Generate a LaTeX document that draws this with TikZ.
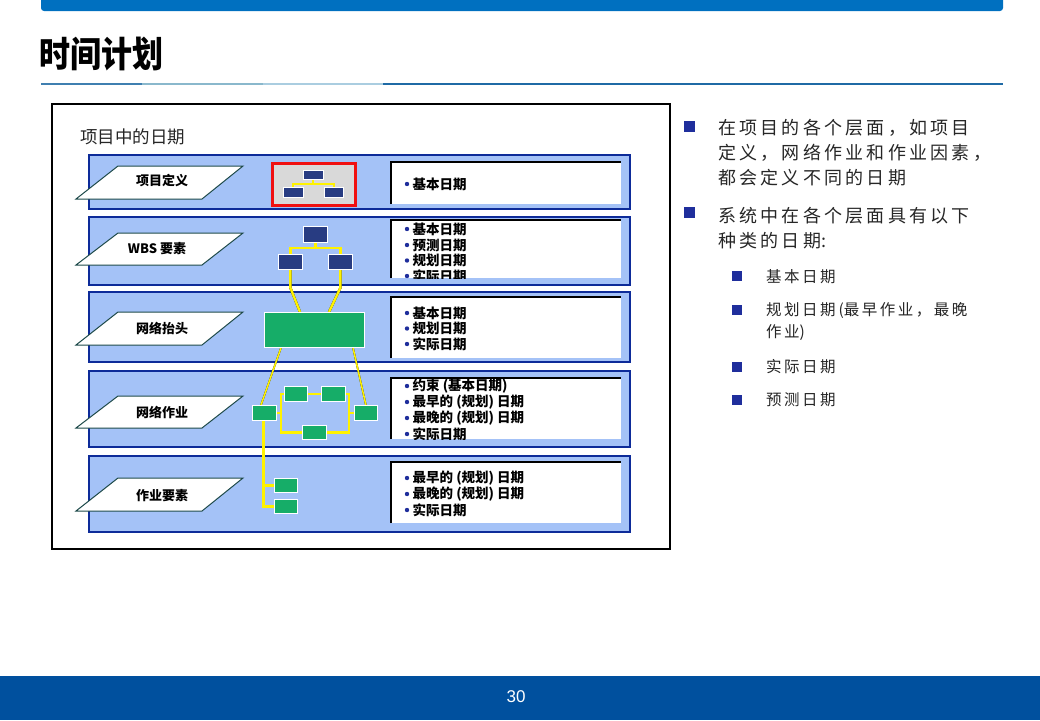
\documentclass[tikz,border=0pt]{standalone}
\usepackage{fontspec}
\usetikzlibrary{calc}
\newfontfamily\cjk{Noto Sans CJK SC}
\newfontfamily\cjkw{Noto Sans CJK SC}[LetterSpace=18]
\newfontfamily\cjks{Noto Sans CJK SC}[LetterSpace=16]
\newfontfamily\arialf{Liberation Sans}
\definecolor{topblue}{HTML}{0070C0}
\definecolor{botblue}{HTML}{00509E}
\definecolor{bandfill}{HTML}{A4C2F7}
\definecolor{bandline}{HTML}{0D2B99}
\definecolor{navybox}{HTML}{283C82}
\definecolor{grn}{HTML}{16AD68}
\definecolor{bulnavy}{HTML}{1F2E9C}
\definecolor{paraline}{HTML}{1E4A4A}
\definecolor{txtgray}{HTML}{262626}
\definecolor{redline}{HTML}{F01010}
\definecolor{iconbg}{HTML}{D9D9D9}
\tikzset{
  band/.style={fill=bandfill, draw=bandline, line width=1.5},
  para/.style={fill=white, draw=paraline, line width=1},
  lbl/.style={font=\cjk\bfseries\fontsize{13}{13}\selectfont, inner sep=0},
  btxt/.style={font=\cjk\bfseries\fontsize{13.5}{13.5}\selectfont, anchor=west, inner sep=0},
  rtxt/.style={font=\cjkw\fontsize{18}{18}\selectfont, anchor=west, inner sep=0, text=txtgray},
  stxt/.style={font=\cjks\fontsize{15.5}{15.5}\selectfont, anchor=west, inner sep=0, text=txtgray},
  nbox/.style={fill=navybox, draw=white, line width=0.8, inner sep=0, anchor=north west},
  gbox/.style={fill=grn, draw=white, line width=0.8, inner sep=0, anchor=north west},
  yl/.style={draw=yellow, line width=2.4},
  ylsh/.style={draw=black, line width=2.4, shift={(1,1)}},
  sq/.style={fill=bulnavy}
}
\newcommand\ypath[2][2.4]{\draw[ylsh, line width=#1] #2; \draw[yl, line width=#1] #2;}
\newcommand\bitem[3]{\fill[bulnavy] (407,#2) circle (2.2); \node[btxt] (#1) at (412.5,#2) {#3};}
\newcommand\wbox[2]{\fill[white] (391,#1) rectangle (621,#2); \draw[black, line width=1.2] (391,#2) -- (391,#1) -- (621,#1);}
\begin{document}
\begin{tikzpicture}[x=1pt,y=-1pt]
\useasboundingbox (0,0) rectangle (1040,720);
\fill[white] (0,0) rectangle (1040,720);
% top bar
\fill[topblue, rounded corners=3] (41,-6) rectangle (1003,11);
% title
\node[anchor=west, inner sep=0, font=\cjk\bfseries\fontsize{31}{31}\selectfont] (title) at (39,54) {\scalebox{1}[1.15]{时间计划}};
% underline
\draw[line width=1.5, color={rgb,255:red,63;green,127;blue,176}] (41,84) -- (142,84);
\draw[line width=1.5, color={rgb,255:red,138;green,184;blue,204}] (142,84) -- (263,84);
\draw[line width=1.5, color={rgb,255:red,170;green,205;blue,224}] (263,84) -- (383,84);
\draw[line width=1.5, color={rgb,255:red,31;green,106;blue,165}] (383,84) -- (1003,84);
% panel
\draw[line width=2] (52,104) rectangle (670,549);
\node[anchor=west, inner sep=0, font=\cjk\fontsize{17.5}{17.5}\selectfont, text=txtgray] (ptitle) at (80,137) {项目中的日期};
% bands
\draw[band] (89,155) rectangle (630,209);
\draw[band] (89,217) rectangle (630,285);
\draw[band] (89,292) rectangle (630,362);
\draw[band] (89,371) rectangle (630,447);
\draw[band] (89,456) rectangle (630,532);
% parallelograms
\foreach \t/\b in {166/199, 233/265, 312/345, 396/428, 478/511}{
  \draw[para] (118,\t) -- (243,\t) -- (202,\b) -- (76,\b) -- cycle;
}
\node[lbl] (p1) at (162,181) {项目定义};
\node[lbl] (p2) at (157,249) {WBS 要素};
\node[lbl] (p3) at (162,328) {网络抬头};
\node[lbl] (p4) at (162,412) {网络作业};
\node[lbl] (p5) at (162,496) {作业要素};
% white boxes
\wbox{162}{204}
\wbox{220}{278}
\wbox{297}{358}
\wbox{378}{439}
\wbox{462}{523}
\bitem{t1a}{184}{基本日期}
\begin{scope}
\clip (391,220) rectangle (621,278);
\bitem{t2a}{229}{基本日期}
\bitem{t2b}{245}{预测日期}
\bitem{t2c}{260.5}{规划日期}
\bitem{t2d}{276}{实际日期}
\end{scope}
\bitem{t3a}{313}{基本日期}
\bitem{t3b}{328.5}{规划日期}
\bitem{t3c}{344}{实际日期}
\begin{scope}
\clip (391,378) rectangle (621,439);
\bitem{t4a}{386}{约束 (基本日期)}
\bitem{t4b}{402}{最早的 (规划) 日期}
\bitem{t4c}{418}{最晚的 (规划) 日期}
\bitem{t4d}{434}{实际日期}
\end{scope}
\bitem{t5a}{478}{最早的 (规划) 日期}
\bitem{t5b}{494}{最晚的 (规划) 日期}
\bitem{t5c}{510}{实际日期}
% project definition icon
\node[draw=redline, line width=3, fill=iconbg, anchor=north west, inner sep=0, minimum width=83, minimum height=42] (defbox) at (271,162) {};
\node[nbox, minimum width=20, minimum height=9] (t0) at (303,170) {};
\node[nbox, minimum width=20, minimum height=10] (l0) at (283,187) {};
\node[nbox, minimum width=19, minimum height=10] (r0) at (324,187) {};
% WBS
\node[nbox, minimum width=24, minimum height=16] (w0) at (303,226) {};
\node[nbox, minimum width=24, minimum height=15] (w1) at (278,254) {};
\node[nbox, minimum width=24, minimum height=15] (w2) at (328,254) {};
\node[gbox, minimum width=100, minimum height=35] (hd) at (264,312) {};
% activities
\node[gbox, minimum width=24, minimum height=15] (a1) at (252,405) {};
\node[gbox, minimum width=23, minimum height=15] (a2) at (284,386) {};
\node[gbox, minimum width=24, minimum height=15] (a3) at (321,386) {};
\node[gbox, minimum width=24, minimum height=14] (a4) at (302,425) {};
\node[gbox, minimum width=23, minimum height=15] (a5) at (354,405) {};
\node[gbox, minimum width=23, minimum height=14] (e1) at (274,478) {};
\node[gbox, minimum width=23, minimum height=14] (e2) at (274,499) {};
% connectors
\ypath[2]{(t0.south) -- ++(0,5)}
\ypath[2]{(l0.north) -- ++(0,-3) -| (r0.north)}
\ypath{(w0.south) -- ++(0,6)}
\ypath{(w1.north) -- ++(0,-6) -| (w2.north)}
\ypath{(w1.south) -- ++(0,18) -- ($(hd.north west)+(36,0)$)}
\ypath{(w2.south) -- ++(0,18) -- ($(hd.north west)+(65,0)$)}
\ypath[1.6]{($(hd.south west)+(17,0)$) -- ($(a1.north west)+(9,0)$)}
\ypath[1.6]{($(hd.south west)+(89,0)$) -- (a5.north)}
\ypath{(a2.west) -- ++(-3,0) |- (a4.west)}
\ypath{(a1.east) -- ++(5,0)}
\ypath{(a2.east) -- (a3.west)}
\ypath{(a3.east) -- ++(3,0) |- (a4.east)}
\ypath{(a5.west) -- ++(-6,0)}
\coordinate (av) at ($(a1.south)+(-1,0)$);
\ypath{(av) |- (e2.west)}
\ypath{(av |- e1.west) -- (e1.west)}
% boxes drawn again on top of connectors
\foreach \n in {t0,l0,r0,w0,w1,w2}{
  \draw[fill=navybox, draw=white, line width=0.8] (\n.north west) rectangle (\n.south east);
}
\foreach \n in {hd,a1,a2,a3,a4,a5,e1,e2}{
  \draw[fill=grn, draw=white, line width=0.8] (\n.north west) rectangle (\n.south east);
}
% right text
\fill[sq] (684,121) rectangle (695,132);
\fill[sq] (684,207) rectangle (695,218);
\node[rtxt] (r1) at (718,128) {在项目的各个层面，如项目};
\node[rtxt] (r2) at (718,153) {定义，网络作业和作业因素，};
\node[rtxt] (r3) at (718,178) {都会定义不同的日期};
\node[rtxt] (r4) at (718,216) {系统中在各个层面具有以下};
\node[rtxt] (r5) at (718,241) {种类的日期{\cjk:}};
\fill[sq] (732,271) rectangle (742,281);
\fill[sq] (732,305) rectangle (742,315);
\fill[sq] (732,362) rectangle (742,372);
\fill[sq] (732,395) rectangle (742,405);
\node[stxt] (s1) at (766,277) {基本日期};
\node[stxt] (s2) at (766,311) {规划日期\hspace{3pt}{\cjk(}最早作业，最晚};
\node[stxt] (s2b) at (766,333) {作业{\cjk)}};
\node[stxt] (s3) at (766,367) {实际日期};
\node[stxt] (s4) at (766,400) {预测日期};
% bottom bar
\fill[botblue] (0,676) rectangle (1040,720);
\node[font=\arialf\fontsize{17}{17}\selectfont, text=white, inner sep=0] (pg) at (516,697) {30};
\end{tikzpicture}
\end{document}
